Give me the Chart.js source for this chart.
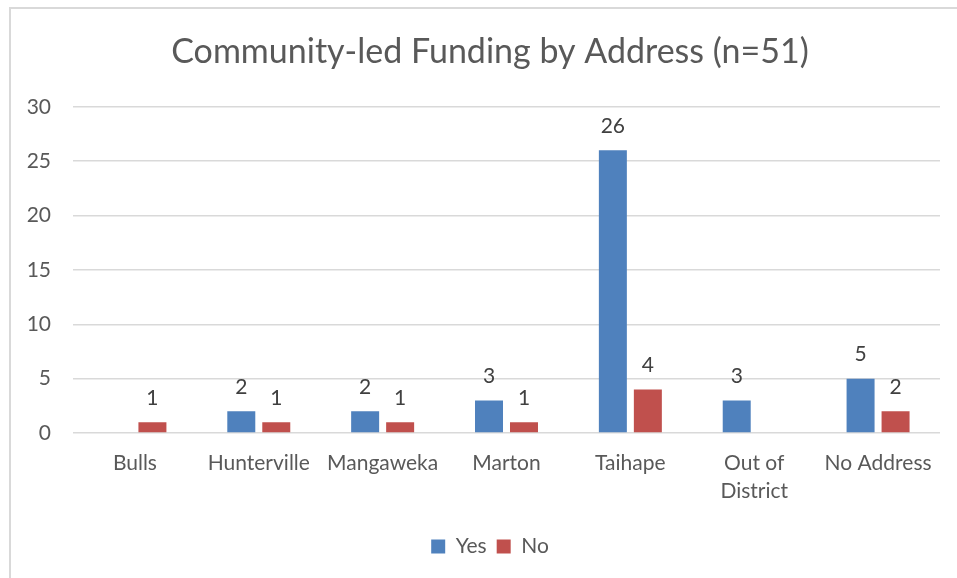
<!DOCTYPE html>
<html>
<head>
<meta charset="utf-8">
<script src="https://cdn.jsdelivr.net/npm/chart.js@4/dist/chart.umd.min.js"></script>
<style>
  html, body { margin: 0; padding: 0; background: #fff; overflow: hidden; }
  #wrap { position: absolute; left: 0; top: 0; width: 980px; height: 578px; }
</style>
</head>
<body>
<div id="wrap"><canvas id="chart1"></canvas></div>
<script>
const categories = ["Bulls", "Hunterville", "Mangaweka", "Marton", "Taihape", ["Out of", "District"], "No Address"]
const yesValues = [null, 2, 2, 3, 26, 3, 5]
const noValues = [1, 1, 1, 1, 4, null, 2]
const yTicks = [0, 5, 10, 15, 20, 25, 30]

const FONT = "Lato, 'Open Sans', sans-serif"
const TEXT = '#595959'

// light grey frame like the Excel chart border
const frame = {
  id: 'frame',
  beforeDraw(chart) {
    const ctx = chart.ctx
    ctx.save()
    ctx.strokeStyle = '#d9d9d9'
    ctx.lineWidth = 2
    ctx.beginPath()
    ctx.moveTo(10, 600)
    ctx.lineTo(10, 8)
    ctx.lineTo(1000, 8)
    ctx.stroke()
    ctx.restore()
  }
}

// value labels above the bars
const barLabels = {
  id: 'barLabels',
  afterDatasetsDraw(chart) {
    const ctx = chart.ctx
    ctx.save()
    ctx.font = '21px ' + FONT
    ctx.fillStyle = '#404040'
    ctx.textAlign = 'center'
    ctx.textBaseline = 'middle'
    chart.data.datasets.forEach((ds, i) => {
      chart.getDatasetMeta(i).data.forEach((bar, j) => {
        if (ds.data[j] == null) return
        ctx.fillText(ds.data[j], bar.x, bar.y - 24)
      })
    })
    ctx.restore()
  }
}

new Chart(document.getElementById("chart1"), {
  type: 'bar',
  data: {
    labels: categories,
    datasets: [
      { label: "Yes", data: yesValues, backgroundColor: "#4f81bd", categoryPercentage: 0.565, barPercentage: 0.8 },
      { label: "No", data: noValues, backgroundColor: "#c0504d", categoryPercentage: 0.565, barPercentage: 0.8 }
    ]
  },
  options: {
    responsive: true,
    maintainAspectRatio: false,
    animation: false,
    layout: { padding: { left: 10, right: 10, top: 0, bottom: 11 } },
    plugins: {
      title: {
        display: true,
        text: 'Community-led Funding by Address (n=51)',
        color: TEXT,
        font: { family: FONT, size: 34, weight: 'normal', lineHeight: 1.2 },
        padding: { top: 32, bottom: 34 }
      },
      legend: {
        position: 'bottom',
        labels: { color: TEXT, boxWidth: 14, boxHeight: 14, font: { family: FONT, size: 21 } }
      },
      tooltip: { enabled: false }
    },
    scales: {
      x: {
        grid: { display: false },
        border: { display: false },
        ticks: { color: TEXT, padding: 8, maxRotation: 0, autoSkip: false, font: { family: FONT, size: 21, lineHeight: 1.35 } },
        afterFit: s => { s.height = 93 }
      },
      y: {
        min: 0,
        max: 30,
        afterBuildTicks: s => { s.ticks = yTicks.map(v => ({ value: v })) },
        grid: { color: '#d9d9d9', lineWidth: 1.5, drawTicks: false },
        border: { display: false },
        ticks: { color: TEXT, padding: 22, font: { family: FONT, size: 21 } },
        afterFit: s => { s.width = 63 }
      },
      y2: {
        position: 'right',
        grid: { display: false },
        border: { display: false },
        ticks: { display: false },
        afterFit: s => { s.width = 30 }
      }
    }
  },
  plugins: [frame, barLabels]
});
</script>
</body>
</html>
